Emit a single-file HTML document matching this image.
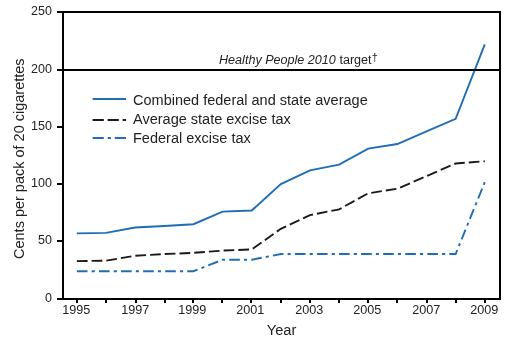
<!DOCTYPE html><html><head><meta charset="utf-8"><style>
html,body{margin:0;padding:0;background:#fff;width:514px;height:342px;overflow:hidden}
svg{display:block;will-change:transform}
text{font-family:"Liberation Sans",sans-serif;fill:#222}
.t{font-size:12.8px}
.l{font-size:14px}
.h{font-size:12.6px}
.g{font-size:14.3px}
</style></head><body><svg width="514" height="342" viewBox="0 0 514 342">
<rect width="514" height="342" fill="#fff"/>
<polyline points="76.88,233.40 106.02,232.83 135.15,227.45 164.29,225.96 193.42,224.24 222.56,211.64 251.70,210.49 280.83,184.14 309.97,170.39 339.10,164.66 368.24,148.62 397.38,144.04 426.51,131.44 455.65,118.83 484.78,44.36" fill="none" stroke="#1f6db5" stroke-width="1.9"/>
<polyline points="76.88,261.13 106.02,260.67 135.15,255.75 164.29,254.03 193.42,252.88 222.56,250.59 251.70,249.44 280.83,228.82 309.97,215.07 339.10,209.34 368.24,193.30 397.38,188.72 426.51,176.12 455.65,163.52 484.78,161.22" fill="none" stroke="#1a1a1a" stroke-width="1.9" stroke-dasharray="10.7 4.03"/>
<polyline points="76.88,271.21 106.02,271.21 135.15,271.21 164.29,271.21 193.42,271.21 222.56,259.76 251.70,259.76 280.83,254.03 309.97,254.03 339.10,254.03 368.24,254.03 397.38,254.03 426.51,254.03 455.65,254.03 484.78,182.19" fill="none" stroke="#1f6db5" stroke-width="1.9" stroke-dasharray="10.65 4.15 3.12 4.15"/>
<path d="M63,12 H500 V299 H63 Z" fill="none" stroke="#000" stroke-width="2"/>
<path d="M57,70 H500" stroke="#000" stroke-width="2"/>
<path d="M57,299 H63" stroke="#000" stroke-width="2"/>
<text transform="translate(52 302.4) scale(0.98 1.06)" text-anchor="end" class="t">0</text>
<path d="M57,241 H63" stroke="#000" stroke-width="2"/>
<text transform="translate(52 244.4) scale(0.98 1.06)" text-anchor="end" class="t">50</text>
<path d="M57,184 H63" stroke="#000" stroke-width="2"/>
<text transform="translate(52 187.4) scale(0.98 1.06)" text-anchor="end" class="t">100</text>
<path d="M57,127 H63" stroke="#000" stroke-width="2"/>
<text transform="translate(52 130.4) scale(0.98 1.06)" text-anchor="end" class="t">150</text>
<path d="M57,70 H63" stroke="#000" stroke-width="2"/>
<text transform="translate(52 73.4) scale(0.98 1.06)" text-anchor="end" class="t">200</text>
<path d="M57,12 H63" stroke="#000" stroke-width="2"/>
<text transform="translate(52 15.4) scale(0.98 1.06)" text-anchor="end" class="t">250</text>
<path d="M77,299 V303" stroke="#000" stroke-width="2"/>
<text transform="translate(76.2 314.2) scale(0.99 1.06)" text-anchor="middle" class="t">1995</text>
<path d="M106,299 V303" stroke="#000" stroke-width="2"/>
<path d="M136,299 V303" stroke="#000" stroke-width="2"/>
<text transform="translate(135.2 314.2) scale(0.99 1.06)" text-anchor="middle" class="t">1997</text>
<path d="M165,299 V303" stroke="#000" stroke-width="2"/>
<path d="M193,299 V303" stroke="#000" stroke-width="2"/>
<text transform="translate(192.2 314.2) scale(0.99 1.06)" text-anchor="middle" class="t">1999</text>
<path d="M222,299 V303" stroke="#000" stroke-width="2"/>
<path d="M251,299 V303" stroke="#000" stroke-width="2"/>
<text transform="translate(250.2 314.2) scale(0.99 1.06)" text-anchor="middle" class="t">2001</text>
<path d="M281,299 V303" stroke="#000" stroke-width="2"/>
<path d="M310,299 V303" stroke="#000" stroke-width="2"/>
<text transform="translate(309.2 314.2) scale(0.99 1.06)" text-anchor="middle" class="t">2003</text>
<path d="M339,299 V303" stroke="#000" stroke-width="2"/>
<path d="M368,299 V303" stroke="#000" stroke-width="2"/>
<text transform="translate(367.2 314.2) scale(0.99 1.06)" text-anchor="middle" class="t">2005</text>
<path d="M397,299 V303" stroke="#000" stroke-width="2"/>
<path d="M427,299 V303" stroke="#000" stroke-width="2"/>
<text transform="translate(426.2 314.2) scale(0.99 1.06)" text-anchor="middle" class="t">2007</text>
<path d="M456,299 V303" stroke="#000" stroke-width="2"/>
<path d="M485,299 V303" stroke="#000" stroke-width="2"/>
<text transform="translate(484.2 314.2) scale(0.99 1.06)" text-anchor="middle" class="t">2009</text>
<text transform="translate(281.6 334.9) scale(1.045 1.1)" text-anchor="middle" class="l">Year</text>
<text transform="translate(24.4 158.7) rotate(-90) scale(1.036 1.08)" text-anchor="middle" class="l">Cents per pack of 20 cigarettes</text>
<text transform="translate(219 63.7) scale(1.0 1.05)" text-anchor="start" class="h"><tspan font-style="italic">Healthy People 2010</tspan> target<tspan font-size="11" dx="0.1" dy="-2.4">†</tspan></text>
<path d="M92.6,99 H126" stroke="#1f6db5" stroke-width="2"/>
<path d="M92.6,120 H126" stroke="#1a1a1a" stroke-width="2" stroke-dasharray="11.2 3.8"/>
<path d="M92.6,138 H126" stroke="#1f6db5" stroke-width="2" stroke-dasharray="11.2 3.9 3.2 3.9"/>
<text transform="translate(133 105.3) scale(1.015 1.07)" text-anchor="start" class="g">Combined federal and state average</text>
<text transform="translate(133 124.0) scale(1.015 1.07)" text-anchor="start" class="g">Average state excise tax</text>
<text transform="translate(133 142.6) scale(1.015 1.07)" text-anchor="start" class="g">Federal excise tax</text>
</svg></body></html>
